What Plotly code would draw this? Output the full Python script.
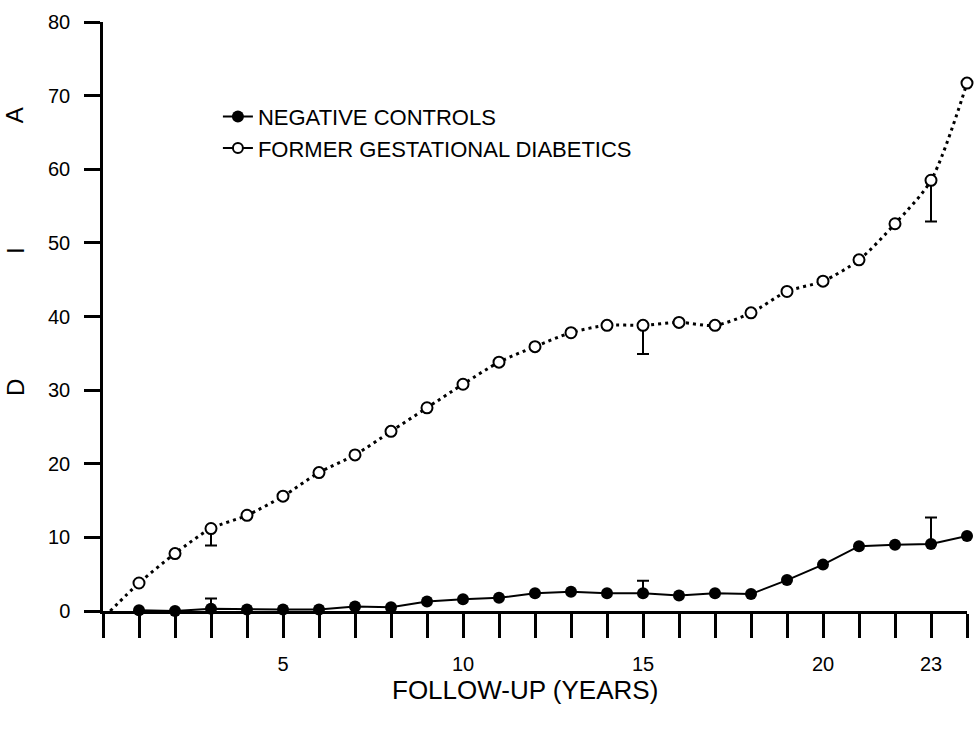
import plotly.graph_objects as go

# Follow-up year for each yearly measurement
years = list(range(1, 25))

# Cumulative diabetes (%) among negative controls
controls = [0.1, 0.0, 0.3, 0.2, 0.2, 0.2, 0.6, 0.5, 1.3, 1.6, 1.8, 2.4,
            2.6, 2.4, 2.4, 2.1, 2.4, 2.3, 4.2, 6.3, 8.8, 9.0, 9.1, 10.2]

# Cumulative diabetes (%) among former gestational diabetics
gdm = [3.8, 7.8, 11.2, 13.0, 15.6, 18.8, 21.2, 24.4, 27.6, 30.8, 33.8, 35.9,
       37.8, 38.8, 38.8, 39.2, 38.8, 40.5, 43.4, 44.8, 47.7, 52.6, 58.5, 71.7]

# Years that carry an error bar, and the bar lengths
err_years = [3, 15, 23]
controls_err = [1.4, 1.7, 3.6]
gdm_err = [2.3, 3.9, 5.6]

# Start of the fitted curve for former gestational diabetics
gdm_curve_start_x = [0.2]
gdm_curve_start_y = [0.0]

# x-axis labelled years
labelled_years = [5, 10, 15, 20, 23]

FONT = "Liberation Sans, Arial, sans-serif"
BLACK = "#000000"

fig = go.Figure()

# Error bars (drawn first so the markers sit on top)
fig.add_trace(go.Scatter(
    x=err_years, y=[controls[years.index(t)] for t in err_years],
    mode="markers", marker=dict(size=1, color="rgba(0,0,0,0)"),
    error_y=dict(type="data", symmetric=False, array=controls_err,
                 arrayminus=[0] * len(err_years), color=BLACK,
                 thickness=2, width=6),
    showlegend=False, hoverinfo="skip"))
fig.add_trace(go.Scatter(
    x=err_years, y=[gdm[years.index(t)] for t in err_years],
    mode="markers", marker=dict(size=1, color="rgba(0,0,0,0)"),
    error_y=dict(type="data", symmetric=False, array=[0] * len(err_years),
                 arrayminus=gdm_err, color=BLACK, thickness=2, width=6),
    showlegend=False, hoverinfo="skip"))

# Dotted fitted curve for former gestational diabetics
fig.add_trace(go.Scatter(
    x=gdm_curve_start_x + years, y=gdm_curve_start_y + gdm,
    mode="lines", line=dict(color=BLACK, width=3, dash="3px,4px",
                            shape="spline", smoothing=0.8),
    showlegend=False, hoverinfo="skip"))

# Negative controls: solid line with filled dots
fig.add_trace(go.Scatter(
    x=years, y=controls, mode="lines+markers", name="NEGATIVE CONTROLS",
    line=dict(color=BLACK, width=2),
    marker=dict(symbol="circle", size=12, color=BLACK),
    cliponaxis=False))

# Former gestational diabetics: open circles
fig.add_trace(go.Scatter(
    x=years, y=gdm, mode="markers", name="FORMER GESTATIONAL DIABETICS",
    marker=dict(symbol="circle", size=11, color="white",
                line=dict(color=BLACK, width=2)),
    showlegend=False, cliponaxis=False))
# Legend entry for the open-circle series
fig.add_trace(go.Scatter(
    x=[None], y=[None], mode="lines+markers",
    name="FORMER GESTATIONAL DIABETICS",
    line=dict(color=BLACK, width=2),
    marker=dict(symbol="circle", size=10, color="white",
                line=dict(color=BLACK, width=2))))

fig.update_layout(
    width=978, height=731,
    margin=dict(l=103, r=11, t=15, b=120),
    paper_bgcolor="white", plot_bgcolor="white",
    font=dict(family=FONT, color=BLACK, size=20),
    showlegend=True,
    legend=dict(x=0.133, y=0.875, xanchor="left", yanchor="top",
                font=dict(family=FONT, size=22, color=BLACK),
                bgcolor="rgba(0,0,0,0)", borderwidth=0,
                tracegroupgap=2),
    xaxis=dict(range=[0, 24], tickmode="array",
               tickvals=[0] + years,
               ticktext=[str(t) if t in labelled_years else "" for t in [0] + years],
               ticks="outside", ticklen=24, tickwidth=2.5, tickcolor=BLACK,
               showline=True, linewidth=2.5, linecolor=BLACK,
               showgrid=False, zeroline=False, ticklabelstandoff=9,
               tickfont=dict(family=FONT, size=20)),
    yaxis=dict(range=[0, 80], tickmode="linear", tick0=0, dtick=10,
               ticks="outside", ticklen=16, tickwidth=2.5, tickcolor=BLACK,
               showline=True, linewidth=2.5, linecolor=BLACK,
               showgrid=False, zeroline=False, ticklabelstandoff=10,
               tickfont=dict(family=FONT, size=20)),
)

# x-axis title
fig.add_annotation(text="FOLLOW-UP (YEARS)", xref="paper", yref="paper",
                   x=0.488, y=-0.134, xanchor="center", yanchor="middle",
                   showarrow=False, font=dict(family=FONT, size=26, color=BLACK))

# Widely spaced y-axis letters
for letter, level in [("D", 30.4), ("I", 49.0), ("A", 67.3)]:
    fig.add_annotation(text=letter, xref="paper", yref="y",
                       x=-0.102, y=level, xanchor="center", yanchor="middle",
                       textangle=-90, showarrow=False,
                       font=dict(family=FONT, size=24, color=BLACK))

fig.write_html("out.html", config={"displayModeBar": False})
